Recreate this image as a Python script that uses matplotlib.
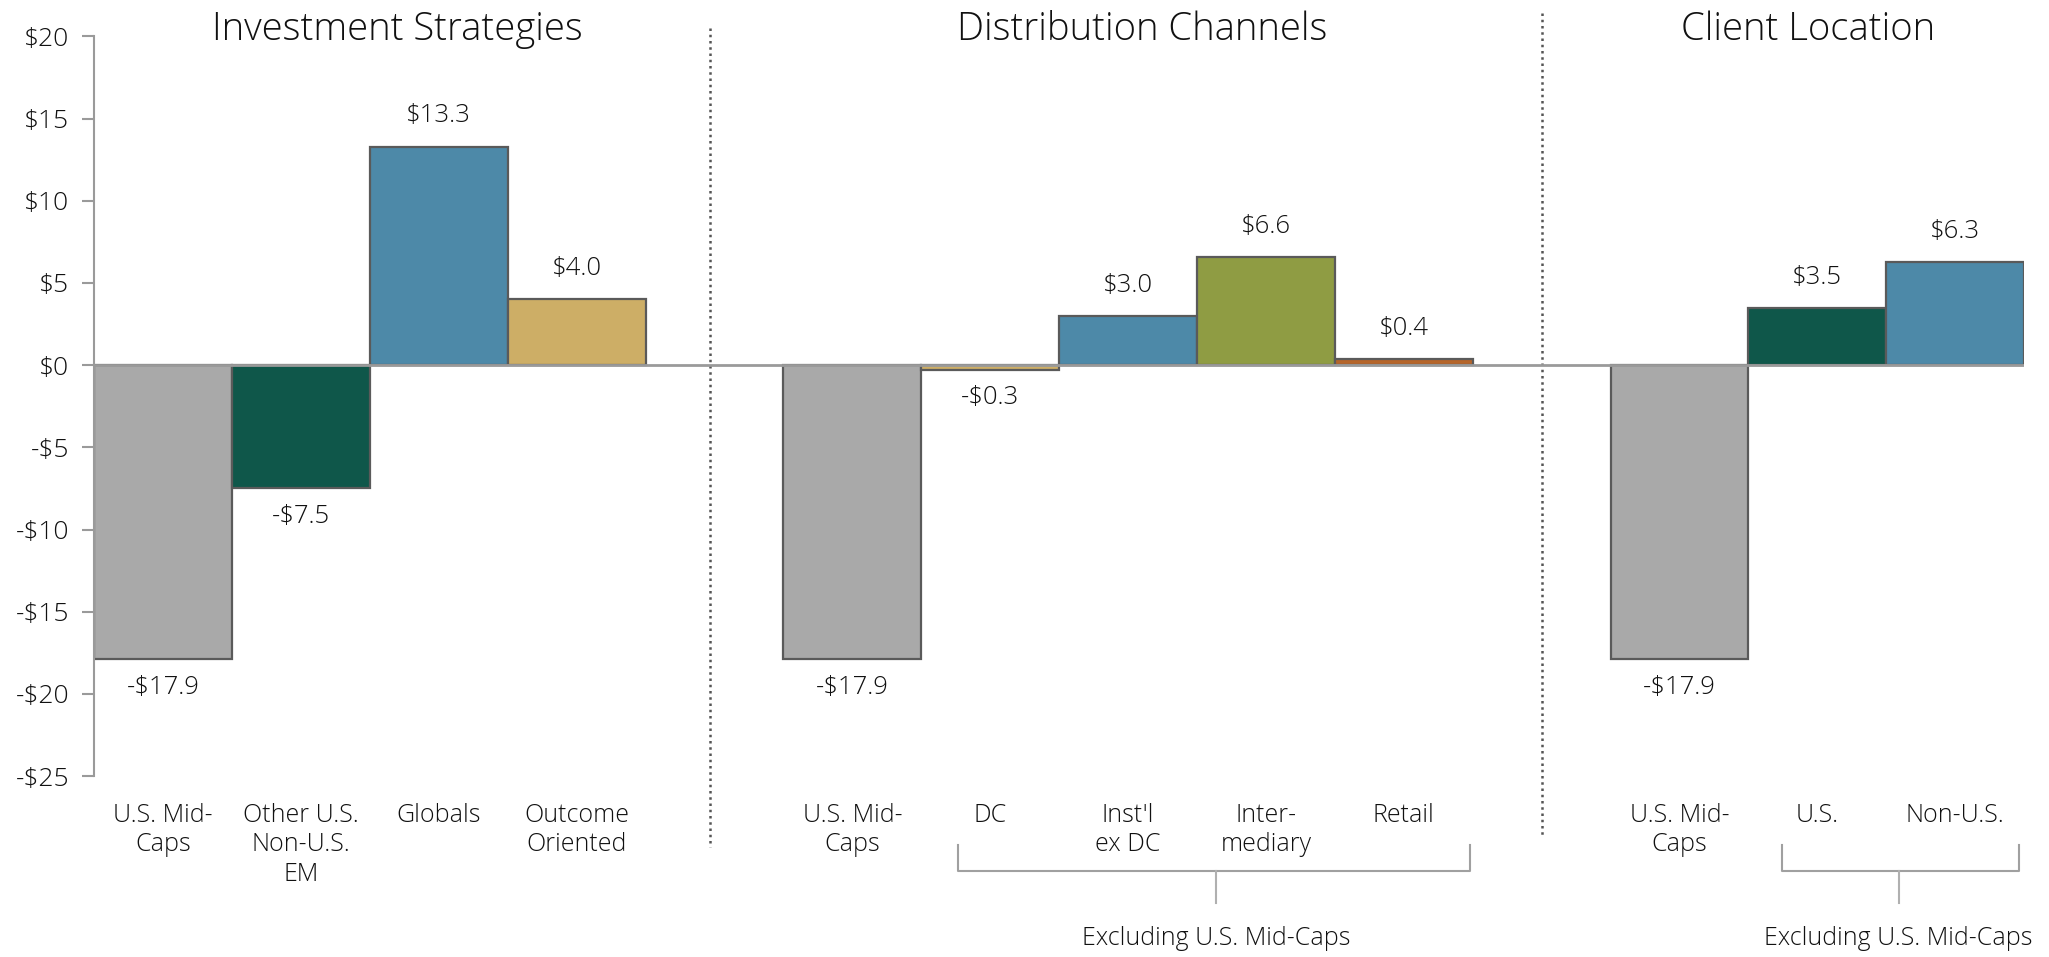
import matplotlib.pyplot as plt

# data (flows, $ billions)
strategy_labels = ["U.S. Mid-\nCaps", "Other U.S.\nNon-U.S.\nEM", "Globals", "Outcome\nOriented"]
strategy_values = [-17.9, -7.5, 13.3, 4.0]
channel_labels = ["U.S. Mid-\nCaps", "DC", "Inst'l\nex DC", "Inter-\nmediary", "Retail"]
channel_values = [-17.9, -0.3, 3.0, 6.6, 0.4]
location_labels = ["U.S. Mid-\nCaps", "U.S.", "Non-U.S."]
location_values = [-17.9, 3.5, 6.3]
panel_titles = ["Investment Strategies", "Distribution Channels", "Client Location"]
y_ticks = [20, 15, 10, 5, 0, -5, -10, -15, -20, -25]

GRAY = "#a9a9a9"
GREEN = "#0f574a"
BLUE = "#4d89a8"
TAN = "#cdae66"
OLIVE = "#8f9c43"
RUST = "#b5652a"

plt.rcParams['font.family'] = ['Open Sans', 'DejaVu Sans']
TXT = "#111111"


def money(v):
    return ("-$%.1f" % abs(v)) if v < 0 else ("$%.1f" % v)


panels = [
    (0, strategy_labels, strategy_values, [GRAY, GREEN, BLUE, TAN]),
    (5, channel_labels, channel_values, [GRAY, TAN, BLUE, OLIVE, RUST]),
    (11, location_labels, location_values, [GRAY, GREEN, BLUE]),
]

fig = plt.figure(figsize=(20.49, 9.57), dpi=100)
ax = fig.add_axes([0.0459, 0.189, 0.942, 0.773])

xticks = []
xlabels = []
for start, labels, values, colors in panels:
    xs = [start + i + 0.5 for i in range(len(values))]
    ax.bar(xs, values, width=1.0, color=colors, edgecolor="#5a5a5a",
           linewidth=1.6, zorder=2)
    for x, v in zip(xs, values):
        if v >= 0:
            ax.annotate(money(v), (x, v), xytext=(0, 13), textcoords="offset points",
                        ha="center", va="bottom", fontsize=18.5, color=TXT,
                        fontweight="light")
        else:
            ax.annotate(money(v), (x, v), xytext=(0, -11), textcoords="offset points",
                        ha="center", va="top", fontsize=18.5, color=TXT,
                        fontweight="light")
    xticks += xs
    xlabels += labels

ax.axhline(0, color="#9a9a9a", lw=2, zorder=3)

ax.set_xlim(0, 14)
ax.set_ylim(-25, 20)
ax.set_yticks(y_ticks)
ax.set_yticklabels([money(t).replace(".0", "") if t != 0 else "$0" for t in y_ticks])
ax.set_xticks(xticks)
ax.set_xticklabels(xlabels, fontsize=18, color=TXT, fontweight="light", linespacing=1.25)
ax.tick_params(axis="x", length=0, pad=19)
ax.tick_params(axis="y", length=9, width=1.5, color="#9a9a9a", labelsize=19,
               labelcolor=TXT, pad=9)
for lab in ax.get_yticklabels():
    lab.set_fontweight("light")

for side in ["top", "right", "bottom"]:
    ax.spines[side].set_visible(False)
ax.spines["left"].set_color("#9a9a9a")
ax.spines["left"].set_linewidth(1.5)

# panel titles
for x, t in zip([2.2, 7.6, 12.43], panel_titles):
    ax.text(x, 20.4, t, ha="center", va="center", fontsize=27.5, color=TXT,
            fontweight="light", clip_on=False)

# dotted separators
ax.plot([4.47, 4.47], [20.5, -29.3], ls=(0, (1, 1.5)), color="#555555", lw=1.8, clip_on=False)
ax.plot([10.5, 10.5], [21.4, -28.6], ls=(0, (1, 1.5)), color="#555555", lw=1.8, clip_on=False)

# brackets under the non-mid-cap groups
for left, right, mid in [(6.27, 9.98, 8.14), (12.24, 13.96, 13.09)]:
    ax.plot([left, left, right, right], [-29.2, -30.8, -30.8, -29.2],
            color="#a0a0a0", lw=1.5, clip_on=False)
    ax.plot([mid, mid], [-30.8, -32.7], color="#b0b0b0", lw=1.5, clip_on=False)
    ax.text(mid, -34.9, "Excluding U.S. Mid-Caps", ha="center", va="center",
            fontsize=18, color=TXT, fontweight="light", clip_on=False)

fig.savefig("out.png", dpi=100)
